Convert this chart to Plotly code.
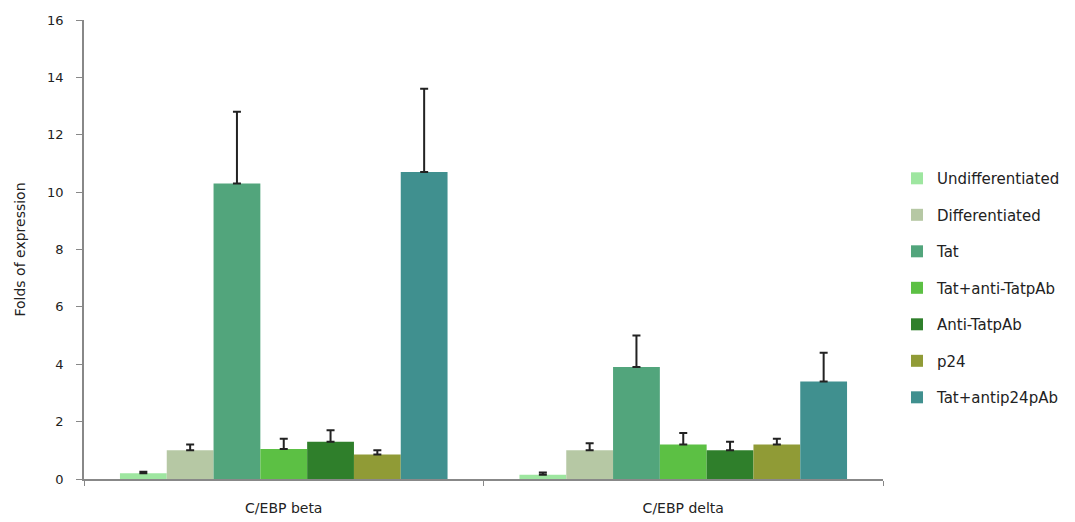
import plotly.graph_objects as go

categories = ["C/EBP beta", "C/EBP delta"]
series_names = ["Undifferentiated", "Differentiated", "Tat", "Tat+anti-TatpAb",
                "Anti-TatpAb", "p24", "Tat+antip24pAb"]
values = {
    "Undifferentiated": [0.2, 0.15],
    "Differentiated": [1.0, 1.0],
    "Tat": [10.3, 3.9],
    "Tat+anti-TatpAb": [1.05, 1.2],
    "Anti-TatpAb": [1.3, 1.0],
    "p24": [0.85, 1.2],
    "Tat+antip24pAb": [10.7, 3.4],
}
errors = {
    "Undifferentiated": [0.05, 0.08],
    "Differentiated": [0.2, 0.25],
    "Tat": [2.5, 1.1],
    "Tat+anti-TatpAb": [0.35, 0.4],
    "Anti-TatpAb": [0.4, 0.3],
    "p24": [0.15, 0.2],
    "Tat+antip24pAb": [2.9, 1.0],
}
colors = ["#9ee6a0", "#b6c8a4", "#52a57c", "#5cc044", "#2f7f2b", "#909b36", "#40908f"]
y_ticks = [0, 2, 4, 6, 8, 10, 12, 14, 16]

fig = go.Figure()
for name, col in zip(series_names, colors):
    fig.add_trace(go.Bar(
        name=name, x=categories, y=values[name], marker_color=col,
        marker_line_width=0, legendgroup=name,
        error_y=dict(type="data", array=errors[name], symmetric=False,
                     arrayminus=[0, 0], color="#222222", thickness=2, width=4),
    ))

fig.update_layout(
    width=1067, height=514,
    barmode="group", bargap=0.18, bargroupgap=0,
    plot_bgcolor="white", paper_bgcolor="white",
    margin=dict(l=76, r=192, t=12, b=43, autoexpand=False),
    font=dict(family="DejaVu Sans, Verdana, sans-serif", size=13, color="#222222"),
    legend=dict(x=1.0175, y=0.416, yanchor="middle", xanchor="left",
                font=dict(size=15, color="#222222"), tracegroupgap=14,
                itemwidth=30, itemsizing="constant"),
    yaxis=dict(range=[0, 16], tickvals=y_ticks, showline=True, linecolor="#888888",
               linewidth=1.5, ticks="outside", ticklen=6, tickcolor="#888888",
               showgrid=False, zeroline=False, automargin=False, ticklabelstandoff=10,
               tickfont=dict(size=13),
               title=dict(text="Folds of expression", font=dict(size=14), standoff=18)),
    xaxis=dict(showline=True, linecolor="#888888", linewidth=1.5, ticks="outside",
               tickson="boundaries", ticklen=5, tickcolor="#888888", showgrid=False,
               automargin=False, ticklabelstandoff=15, tickfont=dict(size=14)),
)

fig.write_html("out.html")
